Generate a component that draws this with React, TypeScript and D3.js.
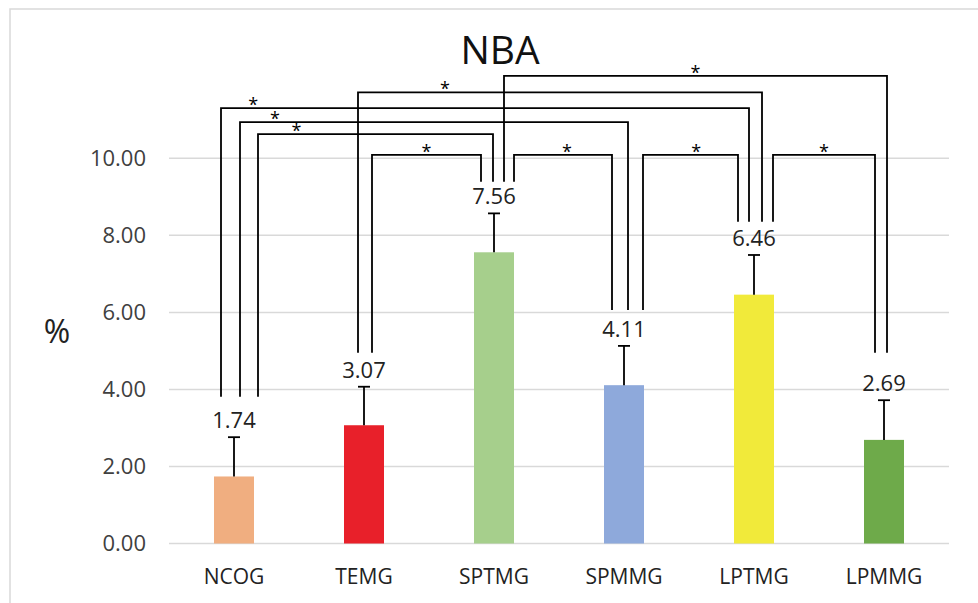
import React from "react";
import * as d3 from "d3";

// Group means, standard deviations and axis ticks
const categories = ["NCOG", "TEMG", "SPTMG", "SPMMG", "LPTMG", "LPMMG"];
const means = [1.74, 3.07, 7.56, 4.11, 6.46, 2.69];
const sds = [1.02, 1.0, 1.01, 1.02, 1.03, 1.03];
const yTicks = [0, 2, 4, 6, 8, 10];
const barColors = ["#F0AE80", "#E8202A", "#A6CF8C", "#8EA9DB", "#F1EA3A", "#6EAA4A"];

// Significance comparisons: [from group, to group, bracket height (y units)]
const comparisons: [string, string, number][] = [
  ["NCOG", "LPTMG", 11.3],
  ["NCOG", "SPMMG", 10.94],
  ["NCOG", "SPTMG", 10.63],
  ["TEMG", "SPTMG", 10.09],
  ["TEMG", "LPTMG", 11.71],
  ["SPTMG", "LPMMG", 12.14],
  ["SPTMG", "SPMMG", 10.09],
  ["SPMMG", "LPTMG", 10.09],
  ["LPTMG", "LPMMG", 10.09],
];
// Lower end of the bracket legs above each group (y units)
const bracketFoot = [3.81, 4.95, 9.39, 6.06, 8.35, 4.95];

// Leg offsets from the bar centre (px) and star placement along each bracket
const legOffsets: [number, number][] = [
  [-13, -5],
  [6, 4],
  [24, -1],
  [8, -13],
  [-6, 8],
  [10, 3],
  [20, -12],
  [19, -16],
  [19, -9],
];
const starAt = [0.061, 0.09, 0.164, 0.5, 0.215, 0.5, 0.54, 0.56, 0.5];

const W = 978;
const H = 603;
const FONT = "'Open Sans', 'Noto Sans', sans-serif";

export default function App() {
  const x = d3.scaleBand<string>().domain(categories).range([169, 949]).paddingInner(0).paddingOuter(0);
  const y = d3.scaleLinear().domain([0, 10]).range([543.5, 158.3]);
  const cx = (c: string) => (x(c) as number) + x.bandwidth() / 2;
  const barW = x.bandwidth() * 0.3077;
  const capW = 12;

  return (
    <svg
      width={W}
      height={H}
      style={{ position: "absolute", left: 0, top: 0, background: "#fff" }}
      fontFamily={FONT}
    >
      {/* chart frame */}
      <rect x={10} y={9} width={W + 20} height={H + 20} fill="#fff" stroke="#d9d9d9" strokeWidth={1.5} />

      {/* title */}
      <text x={500} y={64} textAnchor="middle" fontSize={39} fill="#111">
        NBA
      </text>

      {/* y axis label */}
      <text x={57} y={343} textAnchor="middle" fontSize={32} fill="#222">
        %
      </text>

      {/* grid and tick labels */}
      {yTicks.map((t) => (
        <g key={t}>
          <line x1={169} x2={949} y1={y(t)} y2={y(t)} stroke="#d9d9d9" strokeWidth={1.5} />
          <text x={146} y={y(t)} dy="0.35em" textAnchor="end" fontSize={22} fill="#404040">
            {t.toFixed(2)}
          </text>
        </g>
      ))}

      {/* bars */}
      {categories.map((c, i) => (
        <rect key={c} x={cx(c) - barW / 2} y={y(means[i])} width={barW} height={y(0) - y(means[i])} fill={barColors[i]} />
      ))}

      {/* error bars */}
      {categories.map((c, i) => {
        const top = y(means[i] + sds[i]);
        return (
          <g key={c} stroke="#000" strokeWidth={1.8}>
            <line x1={cx(c)} x2={cx(c)} y1={y(means[i])} y2={top} />
            <line x1={cx(c) - capW / 2} x2={cx(c) + capW / 2} y1={top} y2={top} />
          </g>
        );
      })}

      {/* value labels */}
      {categories.map((c, i) => (
        <text key={c} x={cx(c)} y={y(means[i] + sds[i]) - 9} textAnchor="middle" fontSize={22} fill="#222">
          {means[i].toFixed(2)}
        </text>
      ))}

      {/* significance brackets */}
      {comparisons.map(([a, b, level], k) => {
        const ia = categories.indexOf(a);
        const ib = categories.indexOf(b);
        const x1 = cx(a) + legOffsets[k][0];
        const x2 = cx(b) + legOffsets[k][1];
        const yt = y(level);
        const sx = x1 + (x2 - x1) * starAt[k];
        return (
          <g key={k}>
            <path
              d={`M${x1},${y(bracketFoot[ia])}V${yt}H${x2}V${y(bracketFoot[ib])}`}
              fill="none"
              stroke="#000"
              strokeWidth={1.8}
            />
            <text x={sx} y={yt + 3} textAnchor="middle" fontSize={18} fill="#000">
              *
            </text>
          </g>
        );
      })}

      {/* category labels */}
      {categories.map((c) => (
        <text key={c} x={cx(c)} y={584} textAnchor="middle" fontSize={21} fill="#222">
          {c}
        </text>
      ))}
    </svg>
  );
}
